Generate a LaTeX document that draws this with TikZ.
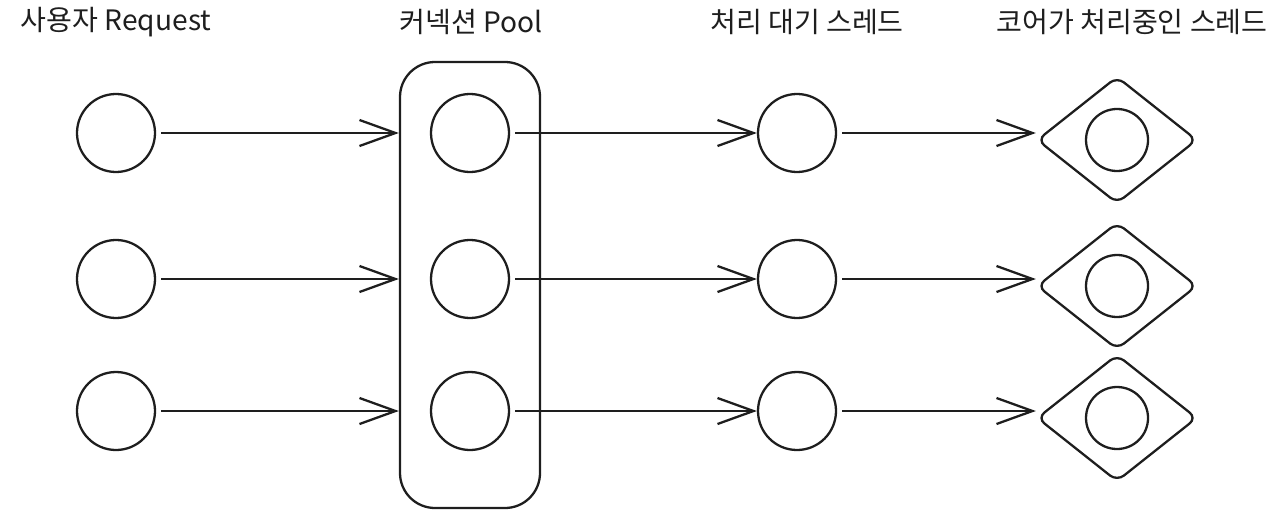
\documentclass[tikz,border=0pt]{standalone}
\usepackage{fontspec}
\setmainfont{Noto Sans CJK KR}
\usetikzlibrary{arrows.meta,shapes.geometric}

\definecolor{ink}{HTML}{1E1E1E}
\tikzset{
  ball/.style={draw=ink, circle, line width=1.3pt, minimum size=1.56cm, inner sep=0pt},
  core/.style={draw=ink, diamond, aspect=1.26, line width=1.3pt, minimum width=3.2cm,
    minimum height=2.54cm, rounded corners=5pt, inner sep=0pt},
  flow/.style={draw=ink, line width=1.3pt, shorten <=3pt,
    -{Straight Barb[length=0.72cm,width=0.52cm,line width=1.3pt]}},
  title/.style={text=ink, font=\fontsize{16}{18}\selectfont}
}

\begin{document}
\begin{tikzpicture}
        \useasboundingbox (0,0) rectangle (25.7,-10.42);
        % column titles
        \node[title] (t1) at (2.32,-0.44) {사용자 Request};
        \node[title] (t2) at (9.42,-0.44) {커넥션 Pool};
        \node[title] (t3) at (16.14,-0.44) {처리 대기 스레드};
        \node[title] (t4) at (22.64,-0.44) {코어가 처리중인 스레드};
        % connection pool
        \node[draw=ink, line width=1.3pt, rounded corners=0.7cm, minimum width=2.8cm,
          minimum height=8.92cm] (pool) at (9.4,-5.7) {};
        \foreach \i/\y in {1/-2.66, 2/-5.58, 3/-8.22} {
          \node[ball] (req\i) at (2.32,\y) {};
          \node[ball] (con\i) at (9.4,\y) {};
          \node[ball] (wait\i) at (15.94,\y) {};
          \node[core] (core\i) at (22.34,\y-0.14) {};
          \node[ball, minimum size=1.24cm] (run\i) at (core\i) {};
          \draw[flow] (req\i.east) -- (req\i.east -| pool.west);
          \draw[flow] (con\i.east) -- (wait\i.west);
          \draw[flow] (wait\i.east) -- (wait\i.east -| core\i.west);
        }
      \end{tikzpicture}
\end{document}
